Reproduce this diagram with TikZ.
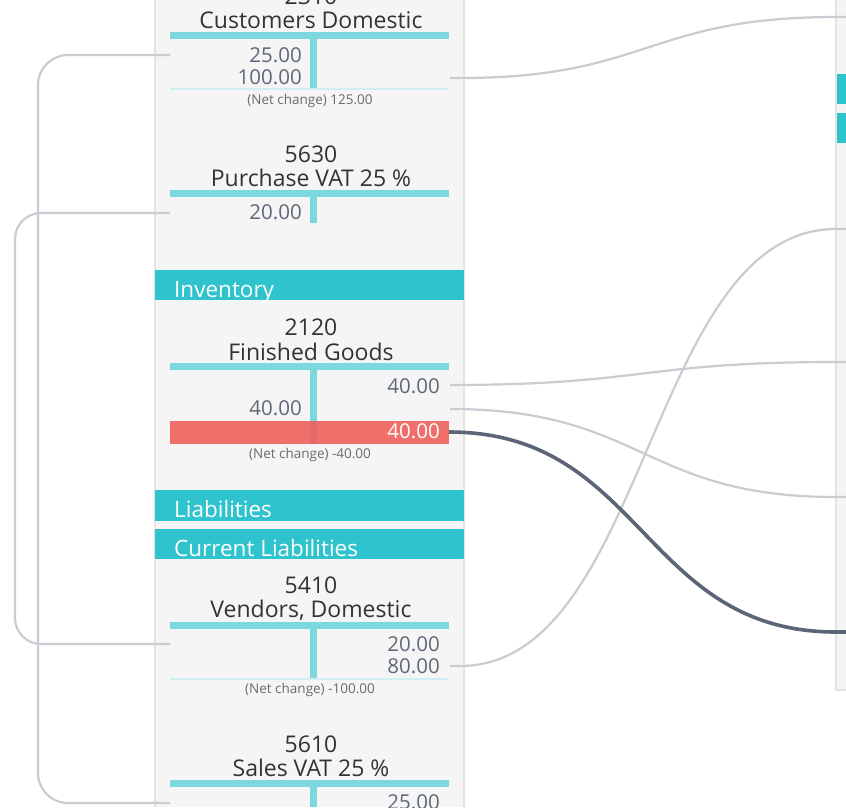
\documentclass[tikz,border=0pt]{standalone}
\usepackage{fontspec}
\setmainfont{Open Sans}
\definecolor{panelbg}{HTML}{F5F5F5}
\definecolor{panelborder}{HTML}{E3E3E3}
\definecolor{hdrteal}{HTML}{2EC3CD}
\definecolor{barteal}{HTML}{7CD8DE}
\definecolor{thinteal}{HTML}{D2EEF0}
\definecolor{redbar}{HTML}{EF6F6A}
\definecolor{redstem}{HTML}{E4696A}
\definecolor{titlec}{HTML}{333333}
\definecolor{numc}{HTML}{5E6878}
\definecolor{netc}{HTML}{6A6A6A}
\definecolor{linkc}{HTML}{C9CCD3}
\definecolor{darklink}{HTML}{5B6575}
\tikzset{
  titletext/.style={font=\fontsize{23}{27}\selectfont, text=titlec, anchor=base, inner sep=0pt},
  numtext/.style={font=\fontsize{20.5}{24}\selectfont, text=numc, anchor=base east, inner sep=0pt},
  nettext/.style={font=\fontsize{13.5}{16}\selectfont, text=netc, anchor=base, inner sep=0pt},
  hdrtext/.style={font=\fontsize{22.5}{26}\selectfont, text=white, anchor=base west, inner sep=0pt},
  hdrbar/.style={fill=hdrteal, draw=none},
  tbar/.style={fill=barteal, draw=none},
  thinline/.style={draw=thinteal, line width=1.2pt},
  link/.style={draw=linkc, line width=2.2pt},
  boldlink/.style={draw=darklink, line width=3.6pt}
}
\begin{document}
\begin{tikzpicture}[x=1pt,y=-1pt]
\useasboundingbox (0,0) rectangle (846,807);
\fill[white] (0,0) rectangle (846,807);

% left panel
\fill[panelbg] (155,0) rectangle (464,807);
\draw[panelborder, line width=1.2pt] (155,0) -- (155,807) (464,0) -- (464,807);

% right panel
\fill[panelbg] (836,0) rectangle (846,690);
\draw[panelborder, line width=1.2pt] (836,0) -- (836,690) -- (846,690);
\fill[hdrteal] (836.6,74) rectangle (846,104);
\fill[hdrteal] (836.6,113) rectangle (846,143);

% ---------- 2310 Customers Domestic ----------
\node[titletext] (cdnum) at (311,4) {2310};
\node[titletext] (cdname) at (311,28) {Customers Domestic};
\fill[tbar] (170,32) rectangle (449,39);
\fill[tbar] (310,39) rectangle (317,89);
\draw[thinline] (170,89) -- (449,89);
\node[numtext] (cdd1) at (302,62) {25.00};
\node[numtext] (cdd2) at (302,84) {100.00};
\node[nettext] (cdnet) at (310,104) {(Net change) 125.00};
\coordinate (cdL) at (170,55);
\coordinate (cdR) at (450,78);

% ---------- 5630 Purchase VAT ----------
\node[titletext] (pvnum) at (311,162) {5630};
\node[titletext] (pvname) at (311,186) {Purchase VAT 25 \%};
\fill[tbar] (170,190) rectangle (449,197);
\fill[tbar] (310,197) rectangle (317,223);
\node[numtext] (pvd1) at (302,219) {20.00};
\coordinate (pvL) at (170,213);

% ---------- Inventory header ----------
\fill[hdrbar] (155,270) rectangle (464,300);
\node[hdrtext] (hinv) at (174,297) {Inventory};

% ---------- 2120 Finished Goods ----------
\node[titletext] (fgnum) at (311,335) {2120};
\node[titletext] (fgname) at (311,360) {Finished Goods};
\fill[tbar] (170,363) rectangle (449,370);
\fill[tbar] (310,370) rectangle (317,421);
\fill[redbar] (170,421) rectangle (449,444);
\fill[redstem] (310,421) rectangle (317,444);
\node[numtext] (fgc1) at (440,393) {40.00};
\node[numtext] (fgd1) at (302,415) {40.00};
\node[numtext, text=white] (fgbal) at (440,438) {40.00};
\node[nettext] (fgnet) at (310,458) {(Net change) -40.00};
\coordinate (fgR1) at (450,385);
\coordinate (fgR2) at (450,409);
\coordinate (fgR3) at (449,432);

% ---------- Liabilities headers ----------
\fill[hdrbar] (155,490) rectangle (464,521);
\node[hdrtext] (hliab) at (174,517) {Liabilities};
\fill[hdrbar] (155,529) rectangle (464,559);
\node[hdrtext] (hcur) at (174,556) {Current Liabilities};

% ---------- 5410 Vendors, Domestic ----------
\node[titletext] (vdnum) at (311,593) {5410};
\node[titletext] (vdname) at (311,617) {Vendors, Domestic};
\fill[tbar] (170,622) rectangle (449,629);
\fill[tbar] (310,629) rectangle (317,679);
\draw[thinline] (170,679) -- (449,679);
\node[numtext] (vdc1) at (440,651) {20.00};
\node[numtext] (vdc2) at (440,673) {80.00};
\node[nettext] (vdnet) at (310,693) {(Net change) -100.00};
\coordinate (vdL) at (170,644);
\coordinate (vdR) at (450,666);

% ---------- 5610 Sales VAT ----------
\node[titletext] (svnum) at (311,752) {5610};
\node[titletext] (svname) at (311,776) {Sales VAT 25 \%};
\fill[tbar] (170,780) rectangle (449,787);
\fill[tbar] (310,787) rectangle (317,807);
\node[numtext] (svc1) at (440,809) {25.00};
\coordinate (svL) at (170,803);

% ---------- right-side targets ----------
\coordinate (t1) at (846,17);
\coordinate (t2) at (846,229);
\coordinate (t3) at (846,362);
\coordinate (t4) at (846,497);
\coordinate (t5) at (846,632);

% ---------- connectors ----------
\draw[link, rounded corners=30pt] (cdL) -- ++(-132,0) |- (svL);
\draw[link, rounded corners=26pt] (pvL) -- ++(-155,0) |- (vdL);

\draw[link] (cdR) -- ++(10,0) .. controls (648,78) and (648,17) .. (836,17) -- (t1);
\draw[link] (fgR1) .. controls (643,385) and (643,362) .. (836,362) -- (t3);
\draw[link] (fgR2) .. controls (643,409) and (643,497) .. (836,497) -- (t4);
\draw[link] (vdR) -- ++(10,0) .. controls (648,666) and (648,229) .. (836,229) -- (t2);
\draw[boldlink] (fgR3) .. controls (643,432) and (643,632) .. (836,632) -- (t5);
\end{tikzpicture}
\end{document}
